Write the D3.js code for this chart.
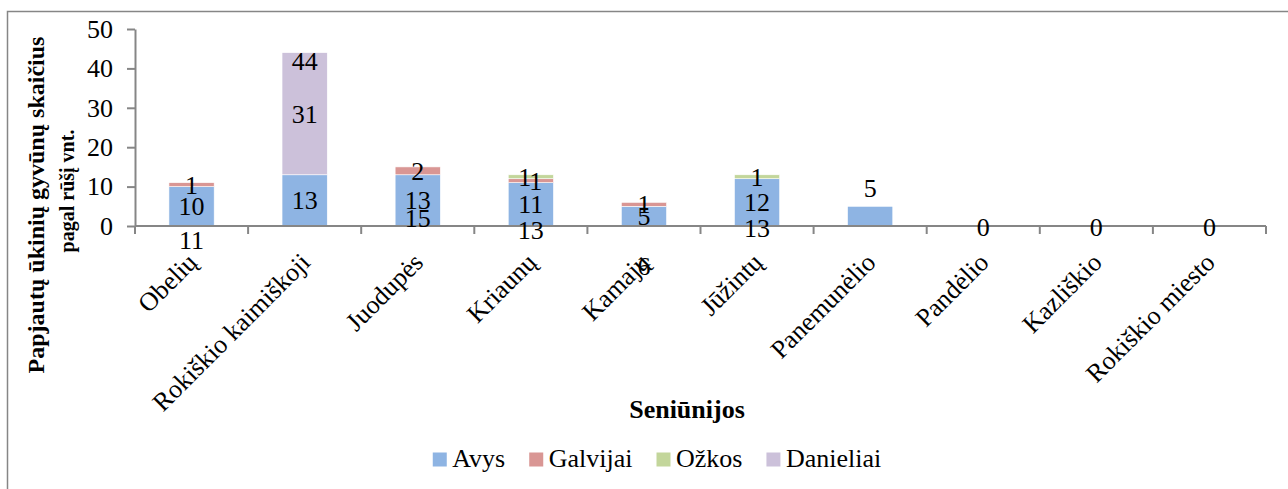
<!DOCTYPE html>
<html>
<head>
<meta charset="utf-8">
<script src="https://cdn.jsdelivr.net/npm/d3@7"></script>
<style>
  html, body { margin: 0; padding: 0; background: #fff; }
  svg text { font-family: "Times New Roman", "Liberation Serif", "DejaVu Serif", serif; }
</style>
</head>
<body>
<svg id="chart" width="1288" height="489"></svg>
<script>
// Seniūnijos (districts) on the x axis
const categories = ["Obelių", "Rokiškio kaimiškoji", "Juodupės", "Kriaunų", "Kamajų",
                    "Jūžintų", "Panemunėlio", "Pandėlio", "Kazliškio", "Rokiškio miesto"];
// slaughtered animals by kind
const avys      = [10, 13, 13, 11, 5, 12, 5, 0, 0, 0];
const galvijai  = [1, 0, 2, 1, 1, 0, 0, 0, 0, 0];
const ozkos     = [0, 0, 0, 1, 0, 1, 0, 0, 0, 0];
const danieliai = [0, 31, 0, 0, 0, 0, 0, 0, 0, 0];
const seriesNames = ["Avys", "Galvijai", "Ožkos", "Danieliai"];
const yTicks = [0, 10, 20, 30, 40, 50];
// height (in axis units) at which each bar's total label is written
const totalLabelAt = [-3.5, 42, 2, -1, -10, -0.5, 9.6, -0.2, -0.2, -0.2];

const colors = ["#8eb4e3", "#d99694", "#c3d69b", "#ccc1da"];
const seriesValues = [avys, galvijai, ozkos, danieliai];
// small sideways nudges for labels that would sit on top of each other
const labelNudge = { "Kriaunų|Ožkos": -6, "Kriaunų|Galvijai": 5 };

const FONT = "'Times New Roman', 'Liberation Serif', 'DejaVu Serif', serif";
const svg = d3.select("#chart");
const axisColor = "#868686";

// outer chart frame
svg.append("rect")
  .attr("x", 7.5).attr("y", 11.5)
  .attr("width", 1400).attr("height", 600)
  .attr("fill", "none").attr("stroke", axisColor).attr("stroke-width", 1.5);

const plot = { left: 135, right: 1266, top: 29, bottom: 226 };

const x = d3.scaleBand()
  .domain(categories)
  .range([plot.left, plot.right])
  .paddingInner(0.6)
  .paddingOuter(0.3);

const y = d3.scaleLinear()
  .domain([0, 50])
  .range([plot.bottom, plot.top]);

// stacked layout
const rows = categories.map((c, i) => {
  const r = { cat: c };
  seriesNames.forEach((s, k) => r[s] = seriesValues[k][i]);
  return r;
});
const stack = d3.stack().keys(seriesNames)(rows);

const g = svg.append("g");

stack.forEach((layer, k) => {
  g.append("g")
    .selectAll("rect")
    .data(layer.filter(d => d[1] - d[0] > 0))
    .join("rect")
    .attr("x", d => x(d.data.cat))
    .attr("width", x.bandwidth())
    .attr("y", d => y(d[1]))
    .attr("height", d => y(d[0]) - y(d[1]))
    .attr("fill", colors[k])
    .attr("stroke", "#fff")
    .attr("stroke-width", 0.6);
});

// y axis
const yAxis = g.append("g")
  .attr("transform", `translate(${plot.left},0)`)
  .call(d3.axisLeft(y).tickValues(yTicks).tickSize(8).tickPadding(14).tickSizeOuter(0));
yAxis.attr("font-family", FONT);
yAxis.select(".domain").attr("stroke", axisColor).attr("stroke-width", 2);
yAxis.selectAll(".tick line").attr("stroke", axisColor).attr("stroke-width", 2);
yAxis.selectAll(".tick text")
  .attr("font-size", 26).attr("fill", "#000")
  .attr("font-family", FONT);

// x axis line and category boundary ticks
g.append("line")
  .attr("x1", plot.left).attr("x2", plot.right)
  .attr("y1", y(0)).attr("y2", y(0))
  .attr("stroke", axisColor).attr("stroke-width", 2);
const step = x.step();
g.append("g").selectAll("line")
  .data(d3.range(categories.length + 1))
  .join("line")
  .attr("x1", i => plot.left + i * step).attr("x2", i => plot.left + i * step)
  .attr("y1", y(0)).attr("y2", y(0) + 8)
  .attr("stroke", axisColor).attr("stroke-width", 2);

// rotated category labels
g.append("g").selectAll("text")
  .data(categories)
  .join("text")
  .attr("transform", c => `translate(${x(c) + x.bandwidth() / 2 + 7},${y(0) + 38}) rotate(-45)`)
  .attr("text-anchor", "end")
  .attr("font-family", FONT)
  .attr("font-size", 26)
  .text(c => c);

// segment value labels (only on bars made of more than one kind)
stack.forEach((layer, k) => {
  g.append("g").selectAll("text")
    .data(layer.filter(d => d[1] - d[0] > 0 &&
      seriesNames.filter(s => d.data[s] > 0).length > 1))
    .join("text")
    .attr("x", d => x(d.data.cat) + x.bandwidth() / 2 + (labelNudge[d.data.cat + "|" + seriesNames[k]] || 0))
    .attr("y", d => y((d[0] + d[1]) / 2))
    .attr("dy", "0.35em")
    .attr("text-anchor", "middle")
    .attr("font-family", FONT)
    .attr("font-size", 26)
    .text(d => d[1] - d[0]);
});

// totals
const totals = categories.map((c, i) => d3.sum(seriesValues, v => v[i]));
g.append("g").selectAll("text")
  .data(categories)
  .join("text")
  .attr("x", c => x(c) + x.bandwidth() / 2)
  .attr("y", (c, i) => y(totalLabelAt[i]))
  .attr("dy", "0.35em")
  .attr("text-anchor", "middle")
  .attr("font-family", FONT)
  .attr("font-size", 26)
  .text((c, i) => totals[i]);

// axis titles (y title on two rotated lines)
svg.append("text")
  .attr("transform", "translate(44,205) rotate(-90)")
  .attr("text-anchor", "middle")
  .attr("font-family", FONT)
  .attr("font-size", 24)
  .attr("font-weight", "bold")
  .text("Papjautų ūkinių gyvūnų skaičius");
svg.append("text")
  .attr("transform", "translate(74,191) rotate(-90)")
  .attr("text-anchor", "middle")
  .attr("font-family", FONT)
  .attr("font-size", 20)
  .attr("font-weight", "bold")
  .text("pagal rūšį vnt.");

svg.append("text")
  .attr("x", 687).attr("y", 418)
  .attr("text-anchor", "middle")
  .attr("font-family", FONT)
  .attr("font-size", 26)
  .attr("font-weight", "bold")
  .text("Seniūnijos");

// legend
const legend = svg.append("g");
let lx = 0;
seriesNames.forEach((s, k) => {
  const item = legend.append("g").attr("transform", `translate(${lx},0)`);
  item.append("rect").attr("x", 0).attr("y", -14.5).attr("width", 14).attr("height", 14).attr("fill", colors[k]);
  const t = item.append("text").attr("x", 19.5).attr("y", 0)
    .attr("font-family", FONT).attr("font-size", 26).text(s);
  lx += 19.5 + t.node().getComputedTextLength() + 24;
});
const legendWidth = lx - 24;
legend.attr("transform", `translate(${657 - legendWidth / 2},467)`);
</script>
</body>
</html>
